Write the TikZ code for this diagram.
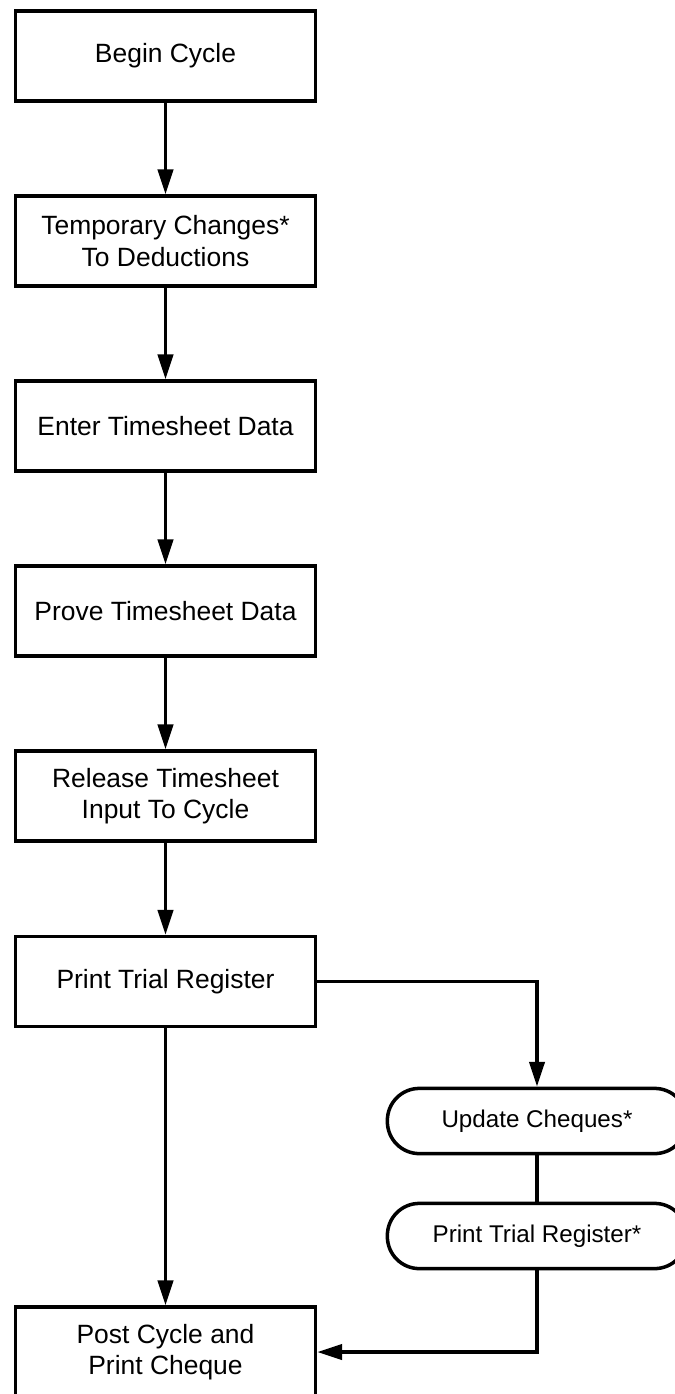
\documentclass[tikz,border=0pt]{standalone}
\usepackage{fontspec}
\setmainfont{Liberation Sans}
\usetikzlibrary{arrows.meta,positioning}

\tikzset{
  box/.style={draw, line width=2.5pt, minimum width=7.5cm, minimum height=2.25cm,
    inner sep=0pt, align=center, font=\fontsize{18.8}{22.3}\selectfont},
  pill/.style={draw, line width=2.5pt, rounded corners=0.8cm, minimum width=7.48cm,
    minimum height=1.63cm, inner sep=0pt, font=\fontsize{17.2}{20}\selectfont},
  flow/.style={line width=2.5pt, -{Triangle[length=0.62cm,width=0.38cm]}},
  link/.style={line width=2.5pt}
}

\begin{document}
\begin{tikzpicture}[x=0.025cm, y=-0.025cm]
    % page frame
    \useasboundingbox (0,0) rectangle (675,1394);

    % main column of steps
    \def\cx{165.5}
    \node[box] (b1) at (\cx,56) {Begin Cycle};
    \node[box] (b2) at (\cx,241) {Temporary Changes*\\To Deductions};
    \node[box] (b3) at (\cx,426) {Enter Timesheet Data};
    \node[box] (b4) at (\cx,611) {Prove Timesheet Data};
    \node[box] (b5) at (\cx,796) {Release Timesheet\\Input To Cycle};
    \node[box] (b6) at (\cx,981.5) {Print Trial Register};
    \node[box] (b7) at (\cx,1352) {Post Cycle and\\Print Cheque};

    % optional side branch
    \node[pill] (u1) at (537,1121) {Update Cheques*};
    \node[pill] (u2) at (537,1236) {Print Trial Register*};

    % arrows down the column
    \foreach \a/\b in {b1/b2, b2/b3, b3/b4, b4/b5, b5/b6, b6/b7} {
        \draw[flow] (\a.south) -- (\b.north);
    }

    % branch and return
    \draw[flow] (b6.east) -| (u1.north);
    \draw[link] (u1.south) -- (u2.north);
    \draw[flow] (u2.south) |- (b7.east);
\end{tikzpicture}
\end{document}
